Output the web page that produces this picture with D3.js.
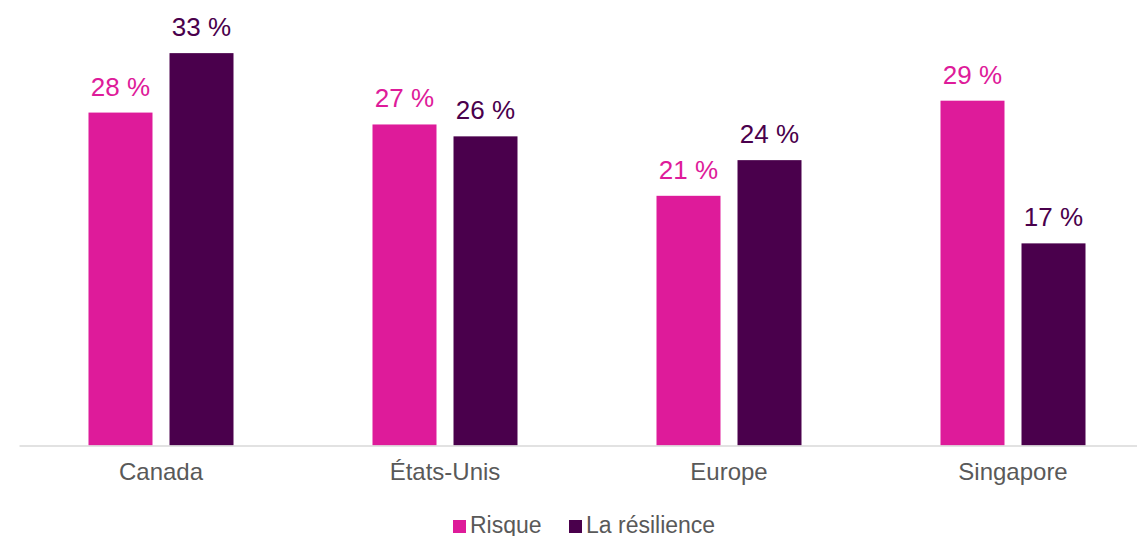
<!DOCTYPE html>
<html>
<head>
<meta charset="utf-8">
<script src="https://cdn.jsdelivr.net/npm/d3@7"></script>
<style>
  body { margin: 0; background: #fff; }
  svg { display: block; font-family: 'Liberation Sans', Arial, sans-serif; }
</style>
</head>
<body>
<svg id="chart"></svg>
<script>
// data
let regions = ['Canada', 'États-Unis', 'Europe', 'Singapore'];
let seriesNames = ['Risque', 'La résilience'];
let risque = [28, 27, 21, 29];
let resilience = [33, 26, 24, 17];

let colors = ['#DE1B9A', '#4A004C'];

let width = 1137;
let height = 536;

let svg = d3.select('#chart')
            .attr('width', width)
            .attr('height', height);

let baseline = 445.5;

// one band per region
let x0 = d3.scaleBand()
           .domain(regions)
           .range([19, 1155])
           .padding(0);

// bars inside each band
let x1 = d3.scaleBand()
           .domain(seriesNames)
           .range([69.5, 214.5])
           .paddingInner(0.21)
           .paddingOuter(0);

let yScale = d3.scaleLinear()
               .domain([0, 35])
               .range([baseline, baseline - 35 * 11.89]);

let rows = regions.map((r, i) => ({
    region: r,
    values: [
        {name: seriesNames[0], value: risque[i], color: colors[0]},
        {name: seriesNames[1], value: resilience[i], color: colors[1]}
    ]
}));

let groups = svg.selectAll('.group')
                .data(rows)
                .enter()
                .append('g')
                .attr('class', 'group')
                .attr('transform', d => 'translate(' + x0(d.region) + ',0)');

groups.selectAll('rect')
      .data(d => d.values)
      .enter()
      .append('rect')
      .attr('x', d => x1(d.name))
      .attr('width', x1.bandwidth())
      .attr('y', d => yScale(d.value))
      .attr('height', d => baseline - yScale(d.value))
      .attr('fill', d => d.color);

// value labels
groups.selectAll('.val')
      .data(d => d.values)
      .enter()
      .append('text')
      .attr('class', 'val')
      .attr('x', d => x1(d.name) + x1.bandwidth() / 2)
      .attr('y', d => yScale(d.value) - 17)
      .attr('text-anchor', 'middle')
      .style('font-size', '26px')
      .attr('fill', d => d.color)
      .text(d => d.value + ' %');

// x axis
let xAxis = d3.axisBottom(x0).tickSize(0).tickPadding(17);

let axisG = svg.append('g')
               .attr('transform', 'translate(0,' + baseline + ')')
               .call(xAxis);

axisG.select('.domain')
     .attr('stroke', '#d9d9d9')
     .attr('stroke-width', 1.5);

axisG.selectAll('text')
     .attr('fill', '#595959')
     .style('font-size', '24px')
     .style('font-family', "'Liberation Sans', Arial, sans-serif");

// legend
let legend = svg.append('g')
                .attr('transform', 'translate(453,520)');

let legendX = [0, 116];

let items = legend.selectAll('.item')
                  .data(seriesNames)
                  .enter()
                  .append('g')
                  .attr('class', 'item')
                  .attr('transform', (d, i) => 'translate(' + legendX[i] + ',0)');

items.append('rect')
     .attr('width', 13)
     .attr('height', 13)
     .attr('fill', (d, i) => colors[i]);

items.append('text')
     .attr('x', 17)
     .attr('y', 13)
     .attr('fill', '#595959')
     .style('font-size', '23px')
     .text(d => d);
</script>
</body>
</html>
